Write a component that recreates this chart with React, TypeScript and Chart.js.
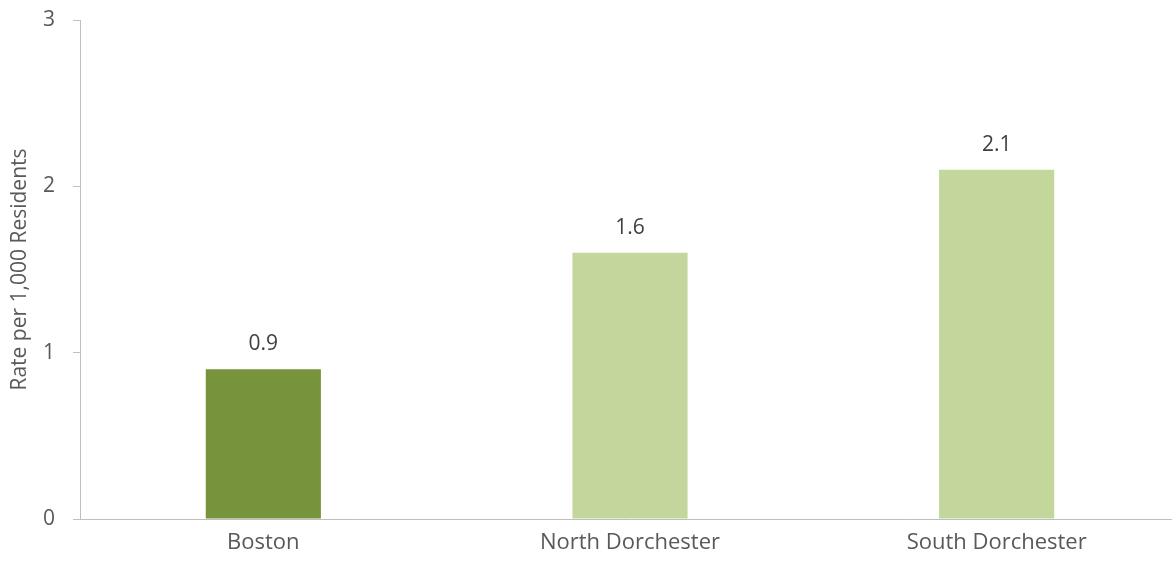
import React, { useEffect, useRef } from "react";
import { Chart, registerables } from "chart.js";

Chart.register(...registerables);

const categories = ["Boston", "North Dorchester", "South Dorchester"];
const values = [0.9, 1.6, 2.1];
const barColors = ["#77933c", "#c3d69b", "#c3d69b"];
const yTicks = [0, 1, 2, 3];
const yTitle = "Rate per 1,000 Residents";

const FONT = "'Open Sans', sans-serif";
const FS = 21;

const labelPlugin = {
  id: "barLabels",
  afterDatasetsDraw(chart: any) {
    const ctx = chart.ctx;
    const meta = chart.getDatasetMeta(0);
    ctx.save();
    ctx.font = `${FS}px ${FONT}`;
    ctx.fillStyle = "#404040";
    ctx.textAlign = "center";
    ctx.textBaseline = "middle";
    meta.data.forEach((bar: any, i: number) => {
      ctx.fillText(values[i].toFixed(1), bar.x, bar.y - 25);
    });
    ctx.restore();
  },
};

export default function App() {
  const ref = useRef<HTMLCanvasElement | null>(null);
  useEffect(() => {
    if (!ref.current) return;
    const chart = new Chart(ref.current, {
      type: "bar",
      data: {
        labels: categories,
        datasets: [
          {
            data: values,
            backgroundColor: barColors,
            barPercentage: 0.314,
            categoryPercentage: 1,
          },
        ],
      },
      options: {
        animation: false,
        responsive: false,
        layout: { padding: { top: 20, right: 10, bottom: 0, left: 0 } },
        plugins: { legend: { display: false }, tooltip: { enabled: false } },
        scales: {
          x: {
            grid: { drawOnChartArea: false, drawTicks: false },
            border: { display: true, color: "#bfbfbf", width: 1 },
            ticks: {
              color: "#595959",
              font: { family: FONT, size: 22 },
              padding: 11,
            },
            afterFit: (s: any) => {
              s.height = 47;
            },
          },
          y: {
            min: 0,
            max: 3,
            afterBuildTicks: (s: any) => {
              s.ticks = yTicks.map((v) => ({ value: v }));
            },
            grid: {
              drawOnChartArea: false,
              drawTicks: true,
              tickLength: 7,
              color: "#bfbfbf",
            },
            border: { display: true, color: "#bfbfbf", width: 1 },
            ticks: {
              color: "#595959",
              font: { family: FONT, size: FS },
              padding: 18,
            },
            title: {
              display: true,
              text: yTitle,
              color: "#595959",
              font: { family: FONT, size: FS },
              padding: { top: 7, bottom: 0 },
            },
            afterFit: (s: any) => {
              s.width = 80;
              s.paddingTop = 0;
              s.paddingBottom = 0;
            },
          },
        },
      },
      plugins: [labelPlugin],
    });
    return () => chart.destroy();
  }, []);
  return (
    <div
      style={{
        position: "fixed",
        left: 0,
        top: 0,
        width: 1172,
        height: 566,
        overflow: "hidden",
        background: "#fff",
      }}
    >
      <canvas ref={ref} width={1190} height={566} style={{ display: "block" }} />
    </div>
  );
}
